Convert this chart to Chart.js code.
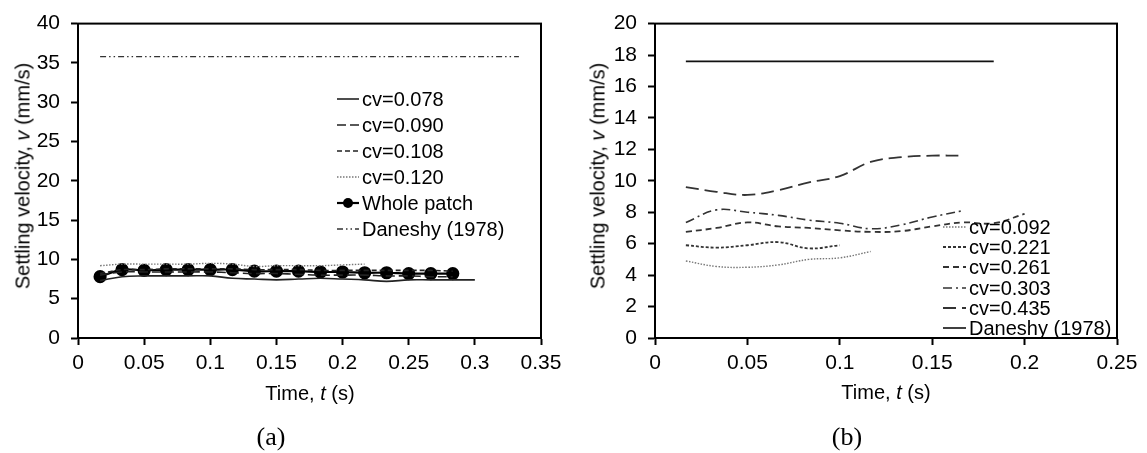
<!DOCTYPE html>
<html>
<head>
<meta charset="utf-8">
<script src="https://cdn.jsdelivr.net/npm/chart.js@4.4.1/dist/chart.umd.min.js"></script>
<style>
  html, body { margin:0; padding:0; background:#fff; }
  body { width:1147px; height:453px; position:relative; overflow:hidden; font-family:"Liberation Sans", Arial, sans-serif; color:#000; }
  canvas { position:absolute; top:0; }
  .ttl { position:absolute; font-size:20px; white-space:nowrap; transform:translate(-50%,-50%); }
  .ytl { transform:translate(-50%,-50%) rotate(-90deg); }
  .cap { position:absolute; font-family:"Liberation Serif","Times New Roman",serif; font-size:26px; transform:translate(-50%,-50%); }
  .lg { position:absolute; font-size:20px; white-space:nowrap; line-height:20px; display:flex; align-items:center; }
  .lg svg { flex:none; }
</style>
</head>
<body>
<canvas id="cA" width="573" height="410" style="left:0"></canvas>
<canvas id="cB" width="574" height="410" style="left:573px"></canvas>

<div class="ttl ytl" style="left:23px;top:176px">Settling velocity, <i>v</i> (mm/s)</div>
<div class="ttl" style="left:310px;top:393px">Time, <i>t</i> (s)</div>
<div class="ttl ytl" style="left:598px;top:176px">Settling velocity, <i>v</i> (mm/s)</div>
<div class="ttl" style="left:886px;top:392px">Time, <i>t</i> (s)</div>
<div class="cap" style="left:271px;top:437px">(a)</div>
<div class="cap" style="left:847px;top:437px">(b)</div>
<div id="legA"></div>
<div id="legB"></div>

<script>
// ---------- data ----------
const timeSteps = [0.0167, 0.0333, 0.05, 0.0667, 0.0833, 0.1, 0.1167, 0.1333, 0.15, 0.1667, 0.1833, 0.2, 0.2167, 0.2333, 0.25, 0.2667, 0.2833, 0.3];

// panel (a)
const labelsA = ["cv=0.078", "cv=0.090", "cv=0.108", "cv=0.120", "Whole patch", "Daneshy (1978)"];
const cv078 = [7.3, 7.8, 7.9, 7.9, 7.9, 7.9, 7.6, 7.5, 7.4, 7.5, 7.6, 7.5, 7.4, 7.2, 7.4, 7.4, 7.4, 7.4];
const cv090 = [8.0, 8.4, 8.4, 8.4, 8.4, 8.4, 8.3, 8.2, 8.2, 8.1, 8.0, 8.0, 8.0, 7.9, 7.9, 7.8, 7.8];
const cv108 = [8.2, 8.7, 8.7, 8.8, 8.8, 8.8, 8.8, 8.7, 8.7, 8.7, 8.6, 8.6, 8.6, 8.6, 8.6, 8.6, 8.5];
const cv120 = [9.2, 9.4, 9.4, 9.4, 9.4, 9.5, 9.4, 9.1, 9.2, 9.2, 9.2, 9.3, 9.4];
const wholePatch = [7.8, 8.7, 8.6, 8.7, 8.7, 8.7, 8.7, 8.5, 8.5, 8.5, 8.4, 8.4, 8.3, 8.3, 8.2, 8.2, 8.2];
const daneshyA_t = [0.0167, 0.3333];
const daneshyA = [35.8, 35.8];
const ticksA_x = [0, 0.05, 0.1, 0.15, 0.2, 0.25, 0.3, 0.35];
const ticksA_y = [0, 5, 10, 15, 20, 25, 30, 35, 40];

// panel (b)
const labelsB = ["cv=0.092", "cv=0.221", "cv=0.261", "cv=0.303", "cv=0.435", "Daneshy (1978)"];
const cv092 = [4.9, 4.55, 4.5, 4.65, 5.0, 5.1, 5.5];
const cv221 = [5.9, 5.75, 5.9, 6.1, 5.7, 5.9];
const cv261 = [6.75, 7.0, 7.35, 7.1, 7.0, 6.85, 6.75, 6.8, 7.1, 7.35, 7.3, 7.9];
const cv303 = [7.35, 8.15, 8.0, 7.8, 7.5, 7.3, 6.95, 7.2, 7.7, 8.1];
const cv435 = [9.6, 9.3, 9.1, 9.4, 9.9, 10.3, 11.2, 11.5, 11.6, 11.6];
const daneshyB_t = [0.0167, 0.1833];
const daneshyB = [17.6, 17.6];
const ticksB_x = [0, 0.05, 0.1, 0.15, 0.2, 0.25];
const ticksB_y = [0, 2, 4, 6, 8, 10, 12, 14, 16, 18, 20];

// ---------- helpers ----------
const pts = (ts, vs) => vs.map((v, i) => ({ x: ts[i], y: v }));
const FONT = { family: "'Liberation Sans', Arial, sans-serif", size: 21 };

const frame = {
  id: 'frame',
  afterDatasetsDraw(chart) {
    const a = chart.chartArea, c = chart.ctx;
    c.save(); c.strokeStyle = '#000'; c.lineWidth = 2;
    c.strokeRect(a.left, a.top, a.right - a.left, a.bottom - a.top);
    c.restore();
  }
};

function scales(xTicks, yTicks, yWidth) {
  const xs = xTicks, ys = yTicks;
  return {
    x: {
      type: 'linear', min: xs[0], max: xs[xs.length - 1],
      afterBuildTicks: s => { s.ticks = xs.map(v => ({ value: v })); },
      afterFit: s => { s.height = 72; },
      ticks: { font: FONT, color: '#000', padding: 6, autoSkip: false, maxRotation: 0,
               callback: v => String(Number(v.toFixed(2))) },
      grid: { drawOnChartArea: false, drawTicks: true, tickLength: 7, tickColor: '#000', tickWidth: 2 },
      border: { display: true, color: '#000', width: 2 }
    },
    y: {
      type: 'linear', min: ys[0], max: ys[ys.length - 1],
      afterBuildTicks: s => { s.ticks = ys.map(v => ({ value: v })); },
      afterFit: s => { s.width = yWidth; },
      ticks: { font: FONT, color: '#000', padding: 11, autoSkip: false },
      grid: { drawOnChartArea: false, drawTicks: true, tickLength: 7, tickColor: '#000', tickWidth: 2 },
      border: { display: true, color: '#000', width: 2 }
    }
  };
}

const baseLine = { fill: false, pointRadius: 0, tension: 0.4, borderColor: '#222', borderWidth: 1.6 };

// ---------- panel (a) ----------
const stylesA = [
  { borderDash: [], borderWidth: 1.6, borderColor: '#222' },
  { borderDash: [9, 4], borderWidth: 1.6, borderColor: '#222' },
  { borderDash: [5, 3], borderWidth: 1.6, borderColor: '#222' },
  { borderDash: [1.5, 1.5], borderWidth: 1.4, borderColor: '#777' },
  { borderDash: [], borderWidth: 2.2, borderColor: '#000' },
  { borderDash: [6, 3, 1.5, 3, 1.5, 3], borderWidth: 1.3, borderColor: '#333' }
];
const dataA = [pts(timeSteps, cv078), pts(timeSteps, cv090), pts(timeSteps, cv108), pts(timeSteps, cv120),
               pts(timeSteps, wholePatch), pts(daneshyA_t, daneshyA)];
new Chart(document.getElementById('cA'), {
  type: 'line',
  data: {
    datasets: dataA.map((d, i) => Object.assign({}, baseLine, stylesA[i], {
      label: labelsA[i], data: d,
      pointRadius: i === 4 ? 5.5 : 0, pointBackgroundColor: '#000', pointBorderColor: '#000',
      tension: i === 5 ? 0 : 0.4
    }))
  },
  options: {
    responsive: false, animation: false, devicePixelRatio: 1,
    layout: { padding: { top: 15, right: 32, left: 0, bottom: 0 } },
    plugins: { legend: { display: false }, tooltip: { enabled: false } },
    scales: scales(ticksA_x, ticksA_y, 78)
  },
  plugins: [frame]
});

// ---------- panel (b) ----------
const stylesB = [
  { borderDash: [1.5, 1.5], borderWidth: 1.4, borderColor: '#777' },
  { borderDash: [3, 2], borderWidth: 1.8, borderColor: '#333' },
  { borderDash: [6, 4], borderWidth: 1.8, borderColor: '#333' },
  { borderDash: [9, 4, 2, 4], borderWidth: 1.6, borderColor: '#333' },
  { borderDash: [13, 6], borderWidth: 1.8, borderColor: '#333' },
  { borderDash: [], borderWidth: 1.6, borderColor: '#111' }
];
const dataB = [pts(timeSteps, cv092), pts(timeSteps, cv221), pts(timeSteps, cv261), pts(timeSteps, cv303),
               pts(timeSteps, cv435), pts(daneshyB_t, daneshyB)];
new Chart(document.getElementById('cB'), {
  type: 'line',
  data: {
    datasets: dataB.map((d, i) => Object.assign({}, baseLine, stylesB[i], {
      label: labelsB[i], data: d, tension: i === 5 ? 0 : 0.4
    }))
  },
  options: {
    responsive: false, animation: false, devicePixelRatio: 1,
    layout: { padding: { top: 15, right: 30, left: 0, bottom: 0 } },
    plugins: { legend: { display: false }, tooltip: { enabled: false } },
    scales: scales(ticksB_x, ticksB_y, 82)
  },
  plugins: [frame]
});

// ---------- HTML legends ----------
function legend(el, labels, styles, x, y0, dy, sampleW, markerIdx) {
  labels.forEach((lab, i) => {
    const s = styles[i];
    const row = document.createElement('div');
    row.className = 'lg';
    row.style.left = x + 'px';
    row.style.top = (y0 + i * dy - 10) + 'px';
    const dash = s.borderDash.length ? `stroke-dasharray="${s.borderDash.join(' ')}"` : '';
    const mk = i === markerIdx ? `<circle cx="${sampleW / 2}" cy="10" r="5" fill="#000"/>` : '';
    row.innerHTML = `<svg width="${sampleW}" height="20"><line x1="0" y1="10" x2="${sampleW}" y2="10" stroke="${s.borderColor}" stroke-width="${s.borderWidth}" ${dash}/>${mk}</svg><span style="margin-left:3px">${lab}</span>`;
    el.appendChild(row);
  });
}
legend(document.getElementById('legA'), labelsA, stylesA, 337, 99, 26, 22, 4);
legend(document.getElementById('legB'), labelsB, stylesB, 943, 227, 20.2, 23, -1);
</script>
</body>
</html>
